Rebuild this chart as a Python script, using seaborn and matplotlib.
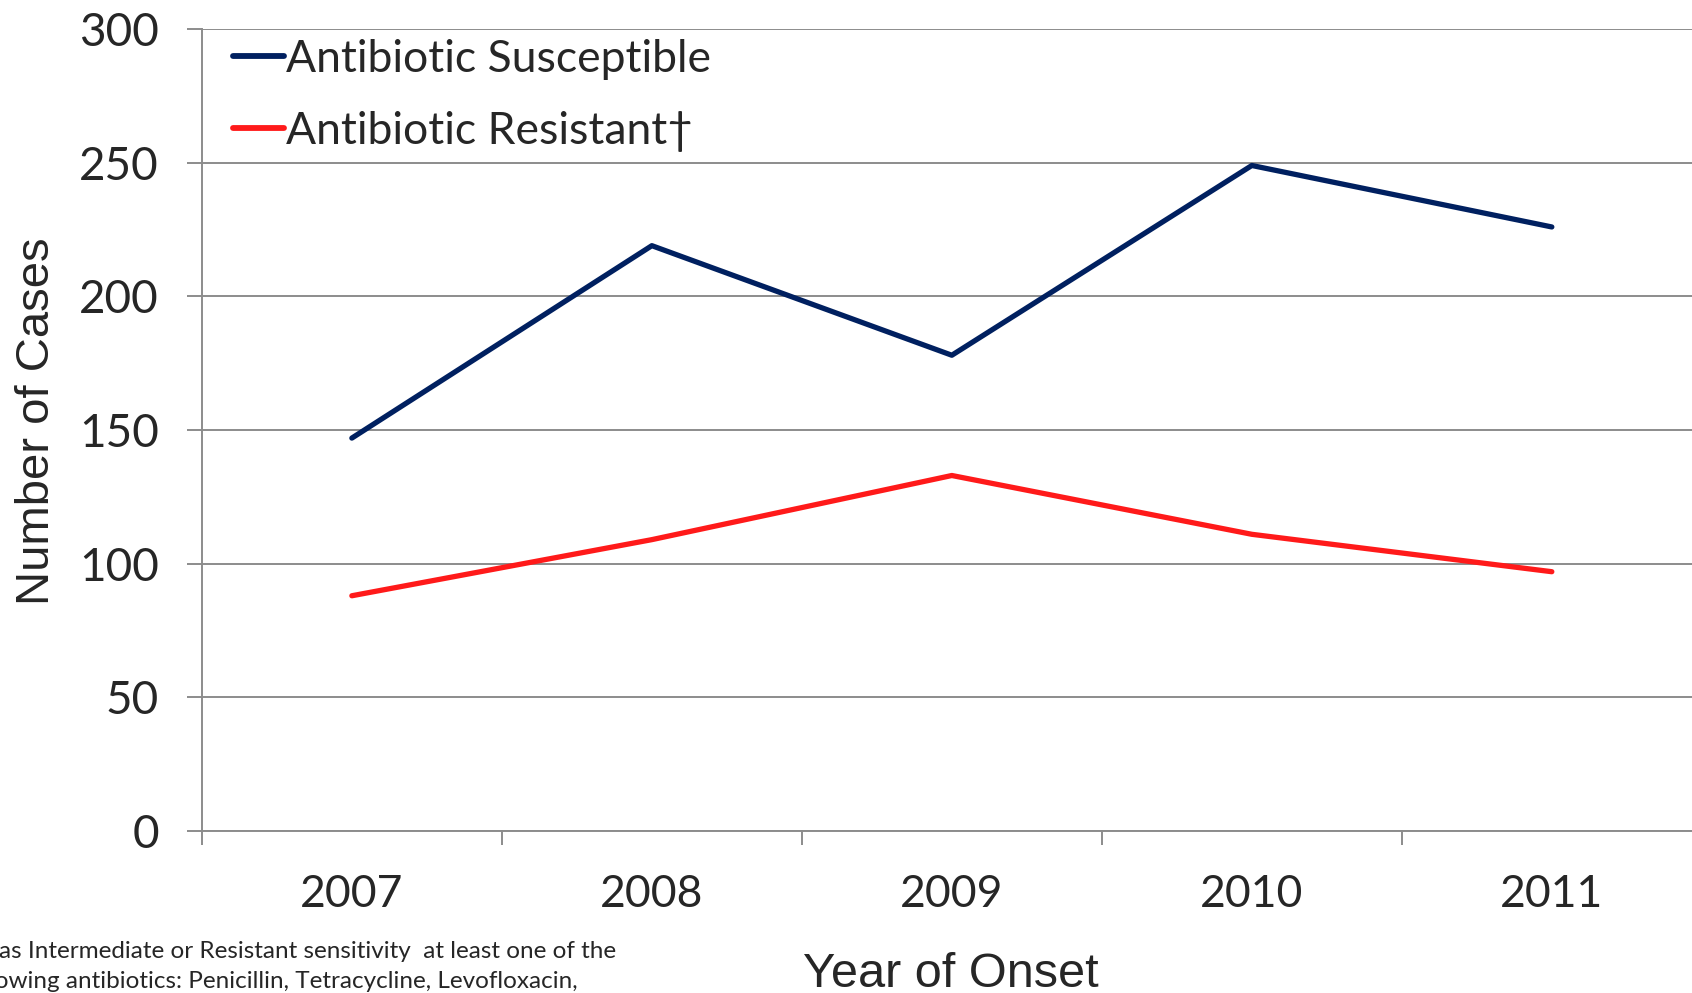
import numpy as np
import pandas as pd
import matplotlib
matplotlib.use('Agg')
import matplotlib.pyplot as plt
import seaborn as sns

years = [2007, 2008, 2009, 2010, 2011]
susceptible = [147, 219, 178, 249, 226]
resistant = [88, 109, 133, 111, 97]
series_names = ['Antibiotic Susceptible', 'Antibiotic Resistant\u2020']
series_colors = ['#002060', '#FF1A1A']
y_ticks = [0, 50, 100, 150, 200, 250, 300]

df = pd.DataFrame({
    'Year': years * 2,
    'Cases': susceptible + resistant,
    'Series': [series_names[0]] * len(years) + [series_names[1]] * len(years),
})

sns.set_style('white')
plt.rcParams['font.family'] = ['Lato', 'DejaVu Sans']

fig = plt.figure(figsize=(16.92, 9.93), dpi=100)
ax = fig.add_axes([0.1193, 0.1632, 0.8865, 0.8074])

sns.lineplot(data=df, x='Year', y='Cases', hue='Series', palette=series_colors,
             linewidth=3.8, ax=ax, legend=True)

ax.set_xlim(years[0] - 0.5, years[-1] + 0.5)
ax.set_ylim(0, 300)
ax.set_yticks(y_ticks)
ax.set_yticklabels([str(v) for v in y_ticks])
ax.set_xticks(years)
ax.set_xticklabels([str(y) for y in years])
ax.set_xticks([y - 0.5 for y in years] + [years[-1] + 0.5], minor=True)

ax.grid(axis='y', color='#8c8c8c', linewidth=1.4)
ax.set_axisbelow(True)
for side in ['top', 'right']:
    ax.spines[side].set_visible(False)
for side in ['left', 'bottom']:
    ax.spines[side].set_color('#8c8c8c')
    ax.spines[side].set_linewidth(1.4)

ax.tick_params(axis='y', which='major', direction='out', length=11, width=1.4,
               color='#8c8c8c', pad=20, labelsize=33, left=True)
ax.tick_params(axis='x', which='major', length=0, pad=31, labelsize=32)
ax.tick_params(axis='x', which='minor', direction='out', length=10, width=1.4,
               color='#8c8c8c', bottom=True)

ax.set_xlabel('')
ax.set_ylabel('Number of Cases', family=['Liberation Sans', 'DejaVu Sans'],
              fontsize=34)
ax.yaxis.set_label_coords(-0.095, 0.511)

leg = ax.legend(loc='upper left', frameon=False, fontsize=32, handlelength=1.15,
                handletextpad=0.05, labelspacing=0.7, borderaxespad=0.3,
                bbox_to_anchor=(0.0, 1.027))
for line in leg.get_lines():
    line.set_linewidth(4.2)

fig.text(0.562, 0.041, 'Year of Onset', family=['Liberation Sans', 'DejaVu Sans'],
         fontsize=35, ha='center', va='top')

fig.text(616 / 1692, 1 - 951 / 993, 'as Intermediate or Resistant sensitivity  at least one of the',
         fontsize=17.5, ha='right', va='center')
fig.text(578 / 1692, 1 - 982 / 993, 'following antibiotics: Penicillin, Tetracycline, Levofloxacin,',
         fontsize=17.5, ha='right', va='center')

fig.savefig('out.png', dpi=100)
